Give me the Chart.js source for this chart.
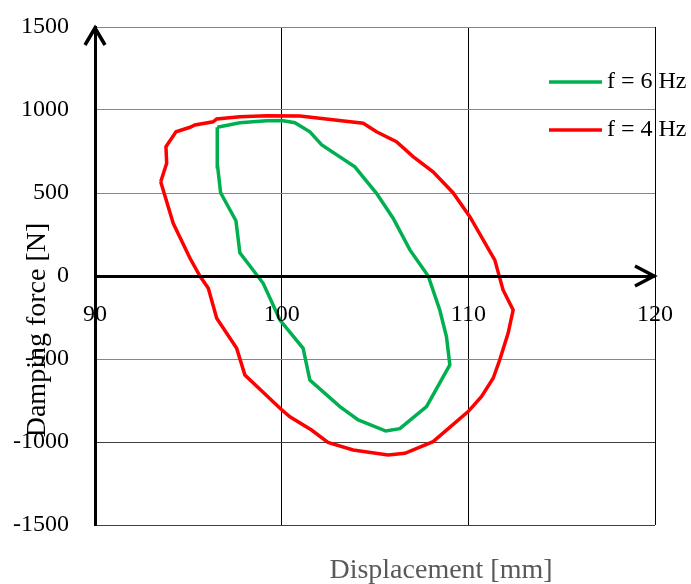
<!DOCTYPE html>
<html>
<head>
<meta charset="utf-8">
<script src="https://cdn.jsdelivr.net/npm/chart.js@4"></script>
<style>
  html, body { margin: 0; padding: 0; background: #fff; }
</style>
</head>
<body>
<canvas id="chart" width="691" height="584"></canvas>
<script>
// hysteresis loops, displacement [mm] vs damping force [N]
const sixHzX = [96.55, 97.76, 99.19, 100.01, 100.71, 101.51, 102.15, 103.92, 105.08, 105.97,
                106.87, 107.85, 108.47, 108.83, 109.01, 107.76, 106.33, 105.58, 104.10, 103.12,
                101.51, 101.15, 99.91, 99.01, 97.76, 97.55, 96.73, 96.57];
const sixHzY = [896, 923, 935, 937, 923, 869, 789, 658, 498, 348,
                157, 0, -205, -366, -536, -787, -920, -934, -867, -787,
                -627, -436, -265, -44, 140, 333, 501, 658];

const fourHzX = [93.52, 93.84, 93.80, 94.34, 95.09, 95.35, 96.33, 96.52, 97.76, 99.19,
                 100.98, 104.37, 105.08, 106.15, 107.04, 108.11, 109.18, 110.08, 111.42, 111.86,
                 112.40, 112.13, 111.68, 111.33, 110.70, 109.99, 108.11, 106.60, 105.70, 103.83,
                 102.48, 101.60, 100.44, 99.91, 98.03, 97.59, 96.52, 96.07, 95.62, 95.09, 94.19];
const fourHzY = [568, 679, 779, 869, 896, 910, 929, 946, 960, 966,
                 964, 920, 869, 809, 719, 628, 502, 357, 96, -84,
                 -205, -345, -506, -616, -727, -817, -998, -1068, -1078, -1048,
                 -1003, -928, -848, -797, -596, -436, -255, -74, 0, 107, 317];

const xMin = 90, xMax = 120, xStep = 10;
const yMin = -1500, yMax = 1500, yStep = 500;

const serif = "'Liberation Serif', 'Times New Roman', serif";

// close each loop back onto its first point
function loop(xs, ys) {
    const pts = xs.map((x, i) => ({ x: x, y: ys[i] }));
    pts.push({ x: xs[0], y: ys[0] });
    return pts;
}

// arrows, axis titles and legend
const decor = {
    id: "decor",
    afterDraw(chart) {
        const ctx = chart.ctx;
        const xs = chart.scales.x, ys = chart.scales.y;
        const x0 = xs.getPixelForValue(xMin);
        const xEnd = xs.getPixelForValue(xMax);
        const yTop = ys.getPixelForValue(yMax);
        const yZero = ys.getPixelForValue(0);

        ctx.save();
        ctx.strokeStyle = "#000";
        ctx.lineWidth = 3.5;
        ctx.lineCap = "butt";
        ctx.lineJoin = "miter";
        ctx.beginPath();
        ctx.moveTo(x0 - 10, yTop + 18);
        ctx.lineTo(x0, yTop + 1);
        ctx.lineTo(x0 + 10, yTop + 18);
        ctx.moveTo(xEnd - 20, yZero - 10);
        ctx.lineTo(xEnd - 1, yZero);
        ctx.lineTo(xEnd - 20, yZero + 10);
        ctx.stroke();

        // axis titles
        ctx.font = "28px " + serif;
        ctx.fillStyle = "#595959";
        ctx.textAlign = "center";
        ctx.textBaseline = "alphabetic";
        ctx.fillText("Displacement [mm]", 441, 578);

        ctx.save();
        ctx.translate(45, 330);
        ctx.rotate(-Math.PI / 2);
        ctx.fillStyle = "#000";
        ctx.fillText("Damping force [N]", 0, 0);
        ctx.restore();

        // legend
        ctx.font = "24px " + serif;
        ctx.textAlign = "left";
        ctx.textBaseline = "middle";
        chart.data.datasets.forEach((ds, i) => {
            const y = 82 + i * 48;
            ctx.strokeStyle = ds.borderColor;
            ctx.lineWidth = 3.5;
            ctx.beginPath();
            ctx.moveTo(549, y);
            ctx.lineTo(602, y);
            ctx.stroke();
            ctx.fillStyle = "#000";
            ctx.fillText(ds.label, 607, y);
        });
        ctx.restore();
    }
};

new Chart(document.getElementById("chart"), {
    type: "line",
    data: {
        datasets: [
            {
                label: "f = 6 Hz",
                data: loop(sixHzX, sixHzY),
                borderColor: "#00b050",
                borderWidth: 3.5,
                pointRadius: 0,
                tension: 0,
                fill: false
            },
            {
                label: "f = 4 Hz",
                data: loop(fourHzX, fourHzY),
                borderColor: "#ff0000",
                borderWidth: 3.5,
                pointRadius: 0,
                tension: 0,
                fill: false
            }
        ]
    },
    options: {
        responsive: false,
        animation: false,
        layout: { padding: { top: 27, right: 36, bottom: 59, left: 0 } },
        scales: {
            x: {
                type: "linear",
                min: xMin,
                max: xMax,
                position: { y: 0 },
                afterFit(scale) { scale.paddingLeft = 0; scale.paddingRight = 0; },
                ticks: {
                    stepSize: xStep, padding: 24, color: "#000", z: 1,
                    font: { family: serif, size: 24 },
                    callback: v => String(v)
                },
                grid: { color: "#000", lineWidth: 1, drawTicks: false },
                border: { color: "#000", width: 3, z: 1 }
            },
            y: {
                type: "linear",
                min: yMin,
                max: yMax,
                afterFit(scale) { scale.width = 95; scale.paddingTop = 0; scale.paddingBottom = 0; },
                ticks: {
                    stepSize: yStep, padding: 26, color: "#000",
                    font: { family: serif, size: 24 },
                    callback: v => String(v)
                },
                grid: {
                    drawTicks: false,
                    lineWidth: 1,
                    color: c => {
                        const v = c.tick ? c.tick.value : null;
                        if (v === 0) return "#000";
                        if (v === -1000 || v === -1500) return "#404040";
                        return "#868686";
                    }
                },
                border: { color: "#000", width: 3 }
            }
        },
        plugins: {
            legend: { display: false },
            tooltip: { enabled: false }
        }
    },
    plugins: [decor]
});
</script>
</body>
</html>
